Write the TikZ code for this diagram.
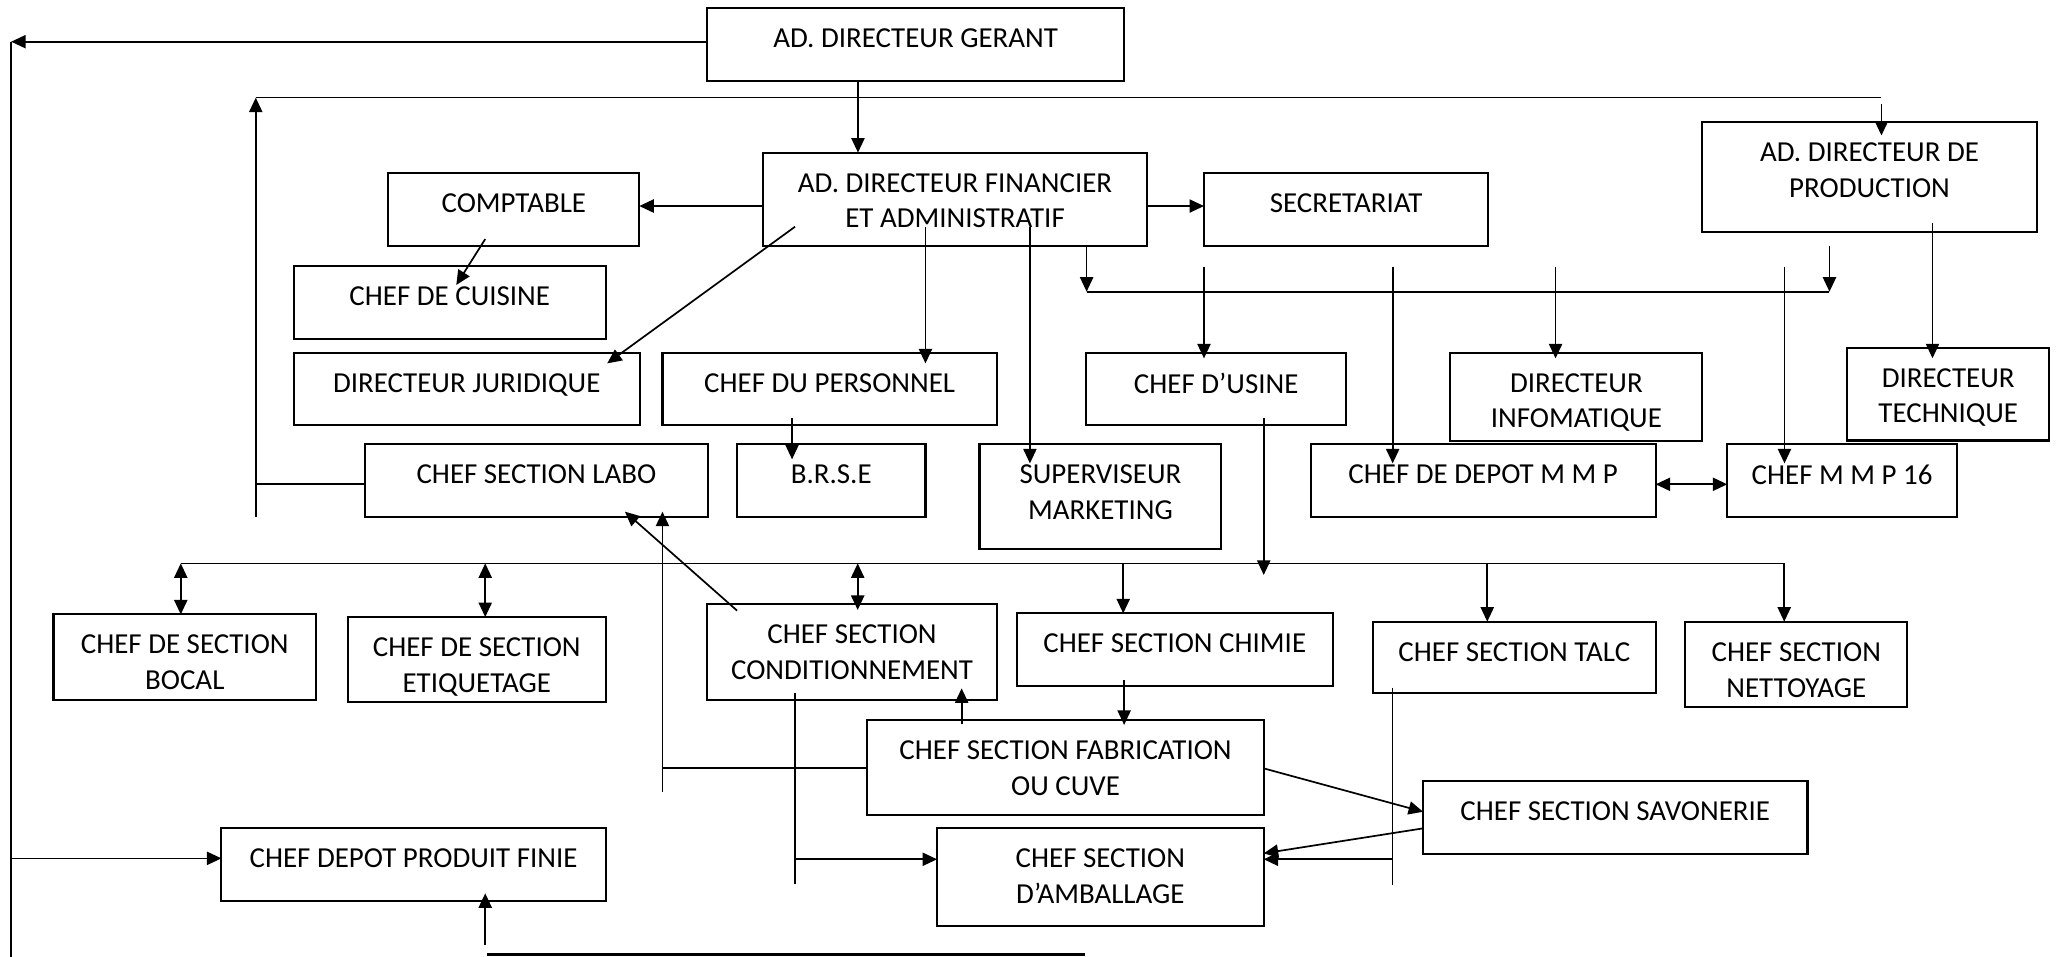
\documentclass[tikz,border=0pt]{standalone}
\usepackage{fontspec}
\setmainfont{Carlito}
\usetikzlibrary{arrows.meta}
\tikzset{
  orgframe/.style={draw, line width=1.6pt, rectangle, inner sep=0pt, outer sep=0pt},
  orgtext/.style={font=\fontsize{22}{27.3}\selectfont, align=center, inner sep=0pt, anchor=north},
  link/.style={draw, line width=1.3pt},
  tip/.style={link, -{Triangle[length=11pt,width=10pt]}},
  twotip/.style={link, {Triangle[length=11pt,width=10pt]}-{Triangle[length=11pt,width=10pt]}},
  heavy/.style={draw, line width=2.2pt},
}
% \orgbox{name}{x1}{y1}{x2}{y2}{text}: framed box with its text set near the top
\newcommand\orgbox[6]{%
  \node[orgframe, minimum width={(#4-#2)*1pt}, minimum height={(#5-#3)*1pt}] (#1) at ({(#2+#4)/2},{(#3+#5)/2}) {};
  \node[orgtext] (#1-t) at ({(#2+#4)/2},{#3+15.5}) {#6};
}
\begin{document}
\begin{tikzpicture}[x=1pt,y=-1pt]
\fill[white] (0,0) rectangle (1568,727);
\useasboundingbox (0,0) rectangle (1568,727);

% ---- boxes ----
\orgbox{ger}{537.5}{6.3}{854.4}{61.6}{AD. DIRECTEUR GERANT}
\orgbox{fin}{579.8}{116}{872}{186.7}{AD. DIRECTEUR FINANCIER\\ET ADMINISTRATIF}
\orgbox{comp}{295.2}{131.2}{485.9}{186.7}{COMPTABLE}
\orgbox{sec}{915.1}{131.2}{1131.2}{186.7}{SECRETARIAT}
\orgbox{prod}{1293.5}{93}{1548.4}{176.6}{AD. DIRECTEUR DE\\PRODUCTION}
\orgbox{cuis}{223.3}{202.2}{460.4}{257.4}{CHEF DE CUISINE}
\orgbox{jur}{223.3}{268}{486.2}{323}{DIRECTEUR JURIDIQUE}
\orgbox{pers}{503.5}{268}{757.7}{323}{CHEF DU PERSONNEL}
\orgbox{usine}{825.6}{268}{1023.2}{323}{CHEF D’USINE}
\orgbox{info}{1102.4}{268}{1293.9}{335}{DIRECTEUR\\INFOMATIQUE}
\orgbox{tech}{1404}{264.2}{1557.5}{334.8}{DIRECTEUR\\TECHNIQUE}
\orgbox{labo}{277.2}{337.7}{538.2}{392.7}{CHEF SECTION LABO}
\orgbox{brse}{560.2}{337.7}{703.4}{392.7}{B.R.S.E}
\orgbox{sup}{744.5}{337.7}{928.3}{417.5}{SUPERVISEUR\\MARKETING}
\orgbox{dmmp}{996.2}{337.5}{1258.4}{392.7}{CHEF DE DEPOT M M P}
\orgbox{mmp}{1312.8}{337.5}{1487.4}{392.7}{CHEF M M P 16}
\orgbox{bocal}{40.7}{467}{240.2}{532}{CHEF DE SECTION\\BOCAL}
\orgbox{etiq}{264.3}{469}{460.5}{533.6}{CHEF DE SECTION\\ETIQUETAGE}
\orgbox{cond}{537.5}{459.1}{757.7}{532}{CHEF SECTION\\CONDITIONNEMENT}
\orgbox{chim}{772.8}{466.2}{1013}{521.1}{CHEF SECTION CHIMIE}
\orgbox{talc}{1043.6}{472.5}{1258.4}{527}{CHEF SECTION TALC}
\orgbox{nett}{1281}{472.5}{1449.6}{537.1}{CHEF SECTION\\NETTOYAGE}
\orgbox{fab}{659.3}{547.2}{960.5}{619.4}{CHEF SECTION FABRICATION\\OU CUVE}
\orgbox{sav}{1081.6}{593.6}{1373.8}{649.1}{CHEF SECTION SAVONERIE}
\orgbox{dpf}{168.3}{629.6}{460.4}{684.5}{CHEF DEPOT PRODUIT FINIE}
\orgbox{amb}{712.2}{629.6}{960.5}{703.6}{CHEF SECTION\\D’AMBALLAGE}

% ---- junction points and free ends ----
\coordinate (lt) at (8.5,31.7);
\coordinate (lb) at (8.5,727);
\coordinate (ub0) at (194.4,392.7);
\coordinate (ub1) at (194.4,74.2);
\coordinate (ub2) at (1430,74.2);
\coordinate (pd0) at (1430,79.3);
\coordinate (pd1) at (1430,103);
\coordinate (cp0) at (368.8,181.7);
\coordinate (cp1) at (346.8,216.6);
\coordinate (fj0) at (604.3,172.3);
\coordinate (fj1) at (461.5,276.2);
\coordinate (fp0) at (703.4,172.3);
\coordinate (fp1) at (703.4,276.2);
\coordinate (fs0) at (782.8,172.3);
\coordinate (fs1) at (782.8,352.2);
\coordinate (fb0) at (825.9,221.7);
\coordinate (fb1) at (1390.5,221.7);
\coordinate (fb2) at (1390.5,186.7);
\coordinate (v1a) at (915.1,202.7);
\coordinate (v1b) at (915.1,272.4);
\coordinate (v2a) at (1058.5,202.7);
\coordinate (v2b) at (1058.5,352.2);
\coordinate (v3a) at (1182.3,202.7);
\coordinate (v3b) at (1182.3,272.4);
\coordinate (v4a) at (1356.3,202.7);
\coordinate (v4b) at (1356.3,352.2);
\coordinate (pt0) at (1468.8,169.7);
\coordinate (pt1) at (1468.8,272.3);
\coordinate (pb0) at (602,318);
\coordinate (pb1) at (602,349.1);
\coordinate (us0) at (960.5,318);
\coordinate (us1) at (960.5,437);
\coordinate (mb0) at (137.4,428.2);
\coordinate (mb1) at (1356.1,428.2);
\coordinate (mbe) at (368.8,428.2);
\coordinate (mbc) at (651.9,428.2);
\coordinate (mbc1) at (651.9,463.6);
\coordinate (mbk) at (853.7,428.2);
\coordinate (mbt) at (1130.4,428.2);
\coordinate (cl0) at (560.2,464.1);
\coordinate (cl1) at (475,388.9);
\coordinate (lv0) at (503.5,601.7);
\coordinate (lv1) at (503.5,388.9);
\coordinate (lvh) at (503.5,583.5);
\coordinate (fc0) at (730.9,550.3);
\coordinate (fc1) at (730.9,523.2);
\coordinate (kf0) at (854.4,516.8);
\coordinate (kf1) at (854.4,551);
\coordinate (ca0) at (604.3,527);
\coordinate (ca1) at (604.3,671.9);
\coordinate (cah) at (604.3,653.1);
\coordinate (ta0) at (1058.4,522.7);
\coordinate (ta1) at (1058.4,672.6);
\coordinate (tah) at (1058.4,653.1);
\coordinate (dp0) at (368.8,718.3);
\coordinate (dp1) at (368.8,679);
\coordinate (bl0) at (369.8,725.5);
\coordinate (bl1) at (824.9,725.5);

% ---- top level ----
\draw[tip] (ger.west |- lt) -- (lt);
\draw[link] (lt) -- (lb);
\draw[tip] (lt |- 0,652.4) -- (dpf.west |- 0,652.4);
\draw[tip] (ger.south -| 652.1,0) -- (fin.north -| 652.1,0);

% ---- upper bus ----
\draw[tip] (ub0) -- (ub1);
\draw[link] (ub1) -- (ub2);
\draw[link] (labo.west |- 0,368.1) -- (ub0 |- 0,368.1);
\draw[tip] (pd0) -- (pd1);

% ---- financial and administrative branch ----
\draw[tip] (fin.west |- 0,156.6) -- (comp.east |- 0,156.6);
\draw[tip] (fin.east |- 0,156.6) -- (sec.west |- 0,156.6);
\draw[tip] (cp0) -- (cp1);
\draw[tip] (fj0) -- (fj1);
\draw[tip] (fp0) -- (fp1);
\draw[tip] (fs0) -- (fs1);
\draw[tip] (fin.south -| fb0) -- (fb0);
\draw[link] (fb0) -- (fb1);
\draw[tip] (fb2) -- (fb1);
\draw[tip] (v1a) -- (v1b);
\draw[tip] (v2a) -- (v2b);
\draw[tip] (v3a) -- (v3b);
\draw[tip] (v4a) -- (v4b);
\draw[tip] (pt0) -- (pt1);
\draw[tip] (pb0) -- (pb1);
\draw[twotip] (dmmp.east |- 0,368.1) -- (mmp.west |- 0,368.1);

% ---- sections bus ----
\draw[tip] (us0) -- (us1);
\draw[link] (mb0) -- (mb1);
\draw[twotip] (mb0) -- (bocal.north -| mb0);
\draw[twotip] (mbe) -- (etiq.north -| mbe);
\draw[twotip] (mbc) -- (mbc1);
\draw[tip] (mbk) -- (chim.north -| mbk);
\draw[tip] (mbt) -- (talc.north -| mbt);
\draw[tip] (mb1) -- (nett.north -| mb1);

% ---- production sections ----
\draw[tip] (cl0) -- (cl1);
\draw[tip] (lv0) -- (lv1);
\draw[link] (fab.west |- lvh) -- (lvh);
\draw[tip] (fc0) -- (fc1);
\draw[tip] (kf0) -- (kf1);
\draw[link] (ca0) -- (ca1);
\draw[tip] (cah) -- (amb.west |- cah);
\draw[tip] (fab.east |- 0,584) -- (sav.west |- 0,617);
\draw[tip] (sav.west |- 0,629.6) -- (amb.east |- 0,648.6);
\draw[link] (ta0) -- (ta1);
\draw[tip] (tah) -- (amb.east |- tah);
\draw[tip] (dp0) -- (dp1);
\draw[heavy] (bl0) -- (bl1);
\end{tikzpicture}
\end{document}
